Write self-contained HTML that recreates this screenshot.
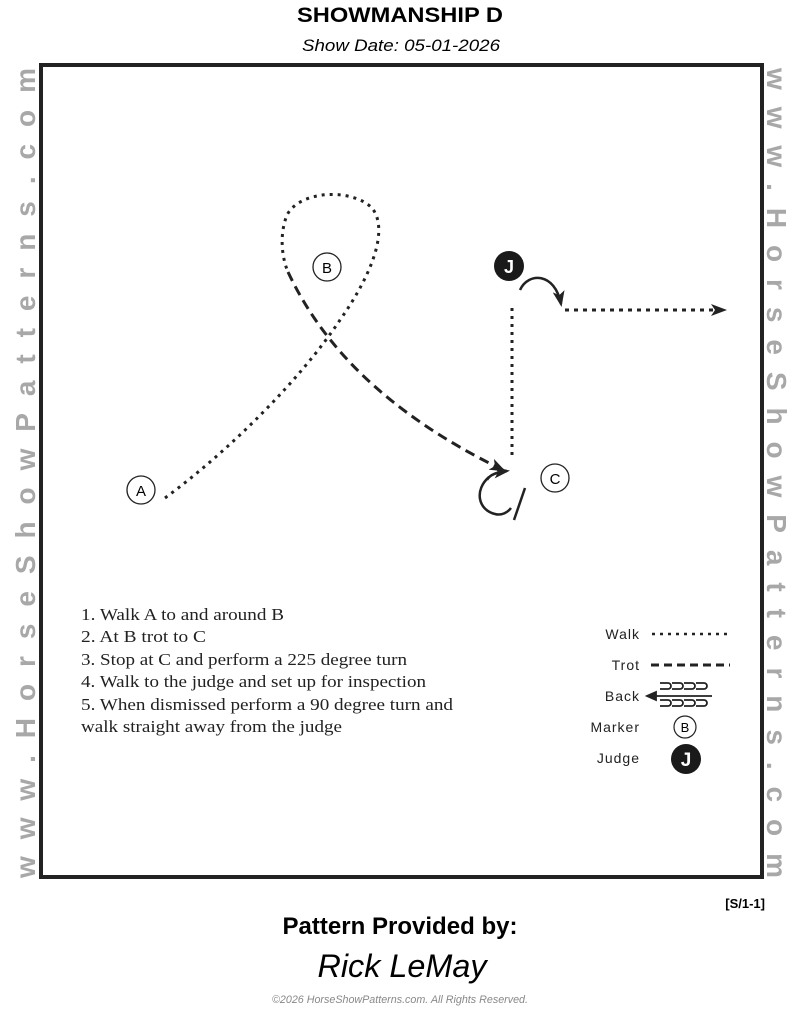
<!DOCTYPE html>
<html><head><meta charset="utf-8"><style>
body{margin:0;background:#fff;}
svg{display:block}
</style></head><body>
<svg width="800" height="1009" viewBox="0 0 800 1009" xmlns="http://www.w3.org/2000/svg" font-family="Liberation Sans, sans-serif">
<text x="400" y="22" text-anchor="middle" font-size="21" font-weight="bold" textLength="206" lengthAdjust="spacingAndGlyphs">SHOWMANSHIP D</text>
<text x="401" y="51" text-anchor="middle" font-size="17" font-style="italic" textLength="198" lengthAdjust="spacingAndGlyphs">Show Date: 05-01-2026</text>
<rect x="41" y="65" width="721" height="812" fill="none" stroke="#222" stroke-width="4"/>
<text transform="translate(35,878) rotate(-90)" font-size="28" font-weight="bold" fill="#a8a8a8" textLength="810" lengthAdjust="spacing">www.HorseShowPatterns.com</text>
<text transform="translate(767,68) rotate(90)" font-size="28" font-weight="bold" fill="#a8a8a8" textLength="810" lengthAdjust="spacing">www.HorseShowPatterns.com</text>
<defs><marker id="ah" markerWidth="16" markerHeight="12" refX="13" refY="6" orient="auto" markerUnits="userSpaceOnUse"><path d="M0,0 L16,6 L0,12 L4,6z" fill="#222"/></marker></defs>
<g fill="none" stroke="#222" stroke-width="3">
<path d="M165,498 C230,450 300,380 340,320 C375,270 388,228 372,208 C352,188 300,190 287,215 C279,235 282,258 288,272" stroke-dasharray="3,5"/>
<path d="M288,272 C320,340 380,410 503,470" stroke-dasharray="10,6" marker-end="url(#ah)"/>
<path d="M512,455 L512,305" stroke-dasharray="3,5"/>
<path d="M565,310 L724,310" stroke-dasharray="4,5" marker-end="url(#ah)"/>
</g>
<g fill="none" stroke="#222" stroke-width="2.5">
<path d="M520,290 C528,272 555,272 561,304" marker-end="url(#ah)"/>
<path d="M489,477 C474,490 478,510 495,514 C502,516 508,512 511,508"/>
<path d="M487,480 C490,474 498,472 507,471" marker-end="url(#ah)"/>
<path d="M525,488 L514,520"/>
</g>
<circle cx="141" cy="490" r="14" fill="none" stroke="#222" stroke-width="1.3"/><text x="141" y="496" text-anchor="middle" font-size="15">A</text>
<circle cx="327" cy="267" r="14" fill="none" stroke="#222" stroke-width="1.3"/><text x="327" y="273" text-anchor="middle" font-size="15">B</text>
<circle cx="555" cy="478" r="14" fill="none" stroke="#222" stroke-width="1.3"/><text x="555" y="484" text-anchor="middle" font-size="15">C</text>
<circle cx="509" cy="266" r="15" fill="#1a1a1a"/><text x="509" y="273" text-anchor="middle" font-size="18" font-weight="bold" fill="#fff">J</text>
<g font-family="Liberation Serif, serif" font-size="17" fill="#222" lengthAdjust="spacingAndGlyphs">
<text x="81" y="620" textLength="203" lengthAdjust="spacingAndGlyphs">1. Walk A to and around B</text>
<text x="81" y="642" textLength="125" lengthAdjust="spacingAndGlyphs">2. At B trot to C</text>
<text x="81" y="665" textLength="326" lengthAdjust="spacingAndGlyphs">3. Stop at C and perform a 225 degree turn</text>
<text x="81" y="687" textLength="345" lengthAdjust="spacingAndGlyphs">4. Walk to the judge and set up for inspection</text>
<text x="81" y="710" textLength="372" lengthAdjust="spacingAndGlyphs">5. When dismissed perform a 90 degree turn and</text>
<text x="81" y="732" textLength="261" lengthAdjust="spacingAndGlyphs">walk straight away from the judge</text>
</g>
<g font-size="14" fill="#222" letter-spacing="1">
<text x="640" y="639" text-anchor="end">Walk</text>
<text x="640" y="670" text-anchor="end">Trot</text>
<text x="640" y="701" text-anchor="end">Back</text>
<text x="640" y="732" text-anchor="end">Marker</text>
<text x="640" y="763" text-anchor="end">Judge</text>
</g>
<path d="M652,634 L730,634" stroke="#222" stroke-width="2.5" stroke-dasharray="3,5"/>
<path d="M651,665 L730,665" stroke="#222" stroke-width="3" stroke-dasharray="8,5"/>
<g fill="none" stroke="#222" stroke-width="1.8">
<path d="M655,696 L712,696"/><path d="M647,696 L656,692 L656,700z" fill="#222"/>
<path d="M660,683 h8 a3,3 0 0 1 0,6 h-8 M672,683 h8 a3,3 0 0 1 0,6 h-8 M684,683 h8 a3,3 0 0 1 0,6 h-8 M696,683 h8 a3,3 0 0 1 0,6 h-8"/>
<path d="M660,700 h8 a3,3 0 0 1 0,6 h-8 M672,700 h8 a3,3 0 0 1 0,6 h-8 M684,700 h8 a3,3 0 0 1 0,6 h-8 M696,700 h8 a3,3 0 0 1 0,6 h-8"/>
</g>
<circle cx="685" cy="727" r="11" fill="none" stroke="#222" stroke-width="1.2"/><text x="685" y="732" text-anchor="middle" font-size="13">B</text>
<circle cx="686" cy="759" r="15" fill="#1a1a1a"/><text x="686" y="766" text-anchor="middle" font-size="19" font-weight="bold" fill="#fff">J</text>
<text x="765" y="908" text-anchor="end" font-size="13" font-weight="bold">[S/1-1]</text>
<text x="400" y="934" text-anchor="middle" font-size="24" font-weight="bold" textLength="235" lengthAdjust="spacingAndGlyphs">Pattern Provided by:</text>
<text x="402" y="977" text-anchor="middle" font-size="32" font-style="italic" textLength="169" lengthAdjust="spacingAndGlyphs">Rick LeMay</text>
<text x="400" y="1003" text-anchor="middle" font-size="11" font-style="italic" fill="#888" textLength="256" lengthAdjust="spacingAndGlyphs">©2026 HorseShowPatterns.com. All Rights Reserved.</text>
</svg>
</body></html>
